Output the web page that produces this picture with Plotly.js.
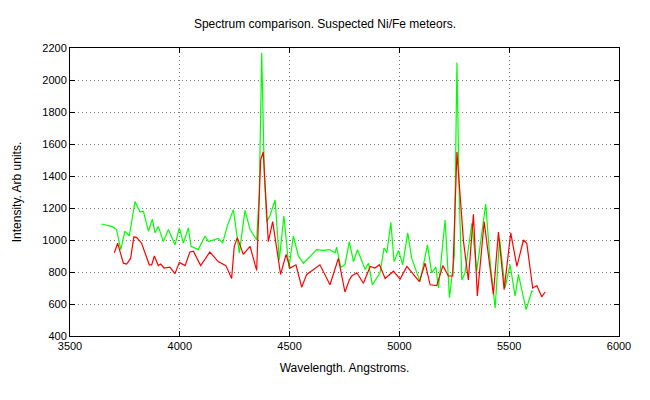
<!DOCTYPE html>
<html><head><script src="https://cdn.plot.ly/plotly-3.0.1.min.js"></script></head>
<body style="margin:0"><div id="c" style="width:650px;height:400px"></div>
<script>
const greenX=[3644,3690,3712,3731,3750,3770,3796,3819,3834,3857,3875,3887,3902,3925,3948,3978,3998,4016,4039,4051,4084,4115,4130,4175,4195,4216,4244,4271,4297,4320,4350,4362,4373,4385,4396,4410,4434,4453,4474,4497,4517,4540,4563,4593,4623,4654,4681,4707,4714,4733,4752,4772,4791,4809,4844,4859,4877,4912,4930,4943,4961,4976,4996,5015,5038,5056,5094,5128,5147,5166,5178,5208,5228,5250,5262,5272,5284,5299,5314,5330,5352,5368,5393,5413,5436,5456,5481,5504,5527,5542,5577,5603,5610];
const greenY=[1100,1085,1065,940,1055,1025,1240,1175,1180,1055,1130,1045,1085,990,1065,970,1075,980,1075,960,940,1025,990,1010,980,1085,1190,920,1185,1065,1000,1300,2170,1400,1115,1150,1250,875,1150,825,1025,900,855,900,940,935,940,920,955,830,845,990,865,940,815,855,720,795,950,920,1110,865,935,845,1045,885,740,970,795,830,700,1125,640,900,2110,1300,750,795,940,1105,805,980,1225,865,575,1010,700,845,650,785,565,680,680];
const redX=[3702,3717,3743,3758,3776,3791,3804,3826,3861,3872,3884,3902,3913,3928,3955,3978,3998,4024,4046,4062,4095,4137,4175,4210,4236,4248,4262,4289,4320,4350,4368,4380,4403,4423,4459,4484,4502,4529,4555,4578,4638,4684,4722,4752,4772,4783,4806,4836,4867,4889,4909,4935,4973,5003,5034,5064,5091,5117,5140,5170,5198,5223,5243,5262,5292,5314,5337,5355,5386,5428,5451,5477,5507,5535,5565,5580,5607,5626,5648,5664];
const redY=[920,980,855,850,885,1020,1015,980,845,845,900,840,850,825,830,790,860,840,925,930,840,925,865,840,760,960,1015,910,960,810,1500,1550,990,1115,785,910,825,845,705,785,845,720,885,675,750,775,795,730,835,825,845,760,805,755,835,785,740,855,720,715,840,775,775,1550,990,750,1160,650,1115,660,1050,690,1045,835,1000,980,700,715,645,675];
const ax={showline:true,mirror:'ticks',linecolor:'#000',linewidth:1,ticks:'inside',ticklen:5,tickcolor:'#000',
 showgrid:true,gridcolor:'#777',griddash:'1px,3px',gridwidth:1,zeroline:false,tickfont:{size:11,color:'#000'}};
Plotly.newPlot('c',[
 {x:greenX,y:greenY,mode:'lines',line:{color:'#00ff00',width:1.2},showlegend:false},
 {x:redX,y:redY,mode:'lines',line:{color:'#ff0000',width:1.2},showlegend:false}
],{width:650,height:400,margin:{l:70,r:31,t:48,b:64},paper_bgcolor:'#fff',plot_bgcolor:'#fff',
 font:{family:'Liberation Sans, Arial, sans-serif',size:11,color:'#000'},
 title:{text:'Spectrum comparison. Suspected Ni/Fe meteors.',x:0.5,y:0.95,font:{size:12}},
 xaxis:Object.assign({},ax,{range:[3500,6000],dtick:500,title:{text:'Wavelength. Angstroms.',standoff:12,font:{size:12}}}),
 yaxis:Object.assign({},ax,{range:[400,2200],dtick:200,title:{text:'Intensity. Arb units.',standoff:18,font:{size:12}}})
},{displayModeBar:false});
</script></body></html>
